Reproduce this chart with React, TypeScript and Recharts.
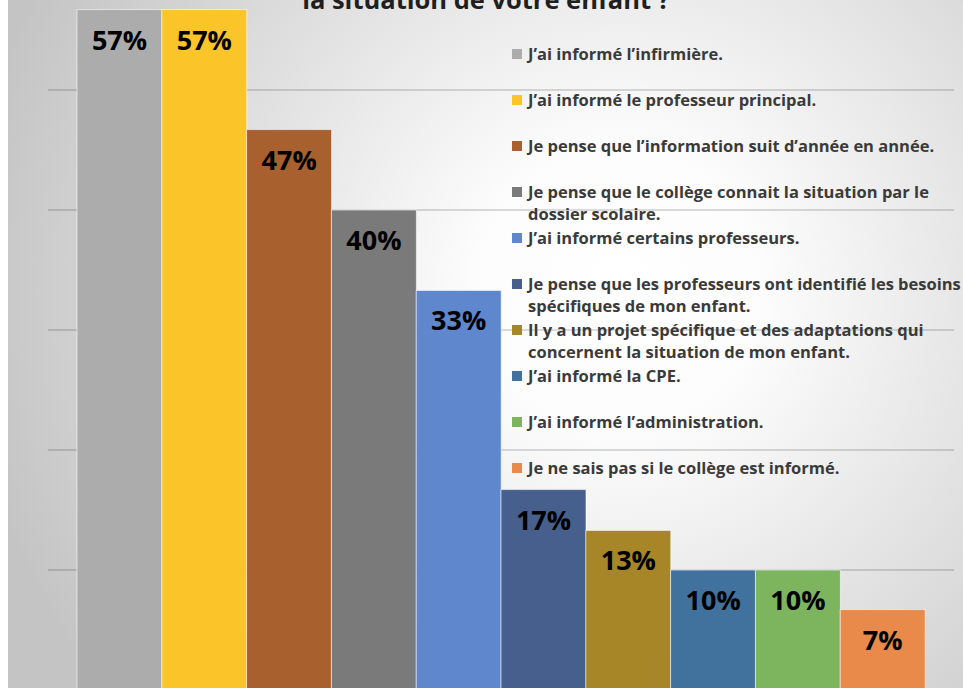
import React from "react";
import { BarChart, Bar, XAxis, YAxis, CartesianGrid, Cell, LabelList } from "recharts";

const categories = [
  "J’ai informé l’infirmière.",
  "J’ai informé le professeur principal.",
  "Je pense que l’information suit d’année en année.",
  "Je pense que le collège connait la situation par le dossier scolaire.",
  "J’ai informé certains professeurs.",
  "Je pense que les professeurs ont identifié les besoins spécifiques de mon enfant.",
  "Il y a un projet spécifique et des adaptations qui concernent la situation de mon enfant.",
  "J’ai informé la CPE.",
  "J’ai informé l’administration.",
  "Je ne sais pas si le collège est informé.",
];
const values = [56.7, 56.7, 46.7, 40, 33.3, 16.7, 13.3, 10, 10, 6.7];
const colors = [
  "#ACACAC", "#FBC52A", "#A9602F", "#7A7A7A", "#5F87CD",
  "#465F8C", "#A68626", "#41729E", "#7DB55E", "#E98A4A",
];
const yTicks = [0, 10, 20, 30, 40, 50, 60];
const title = "la situation de votre enfant ?";

const data = categories.map((name, i) => ({ name, value: values[i] }));

const FONT = "'Open Sans', 'DejaVu Sans', sans-serif";

function PctLabel(props: any) {
  const { x, y, width, value } = props;
  return (
    <text
      x={x + width / 2}
      y={y + 40}
      textAnchor="middle"
      fontFamily={FONT}
      fontWeight={700}
      fontSize={27}
      fill="#000"
    >
      {Math.round(value)}%
    </text>
  );
}

export default function App() {
  return (
    <div
      style={{
        position: "absolute",
        left: 8,
        top: 0,
        width: 955,
        height: 688,
        overflow: "hidden",
        background: "radial-gradient(circle at 64% 42%, #ffffff 0%, #fcfcfc 20%, #e0e0e0 55%, #c4c4c4 90%)",
        fontFamily: FONT,
      }}
    >
      <div
        style={{
          position: "absolute",
          left: 0,
          top: -13,
          width: 956,
          textAlign: "center",
          fontSize: 25.5,
          lineHeight: "24px",
          fontWeight: 700,
          color: "#1f1f1f",
        }}
      >
        {title}
      </div>
      <div style={{ position: "absolute", left: 0, top: -60 }}>
        <BarChart
          width={1000}
          height={760}
          data={data}
          margin={{ top: 30, right: 54, bottom: 10, left: 40 }}
          barCategoryGap={0}
          barGap={0}
        >
          <XAxis dataKey="name" hide padding={{ left: 29, right: 29 }} />
          <YAxis hide domain={[0, 60]} ticks={yTicks} />
          <Bar dataKey="value" stroke="#ffffff" strokeOpacity={0.6} strokeWidth={1} isAnimationActive={false}>
            {data.map((d, i) => (
              <Cell key={d.name} fill={colors[i]} />
            ))}
            <LabelList dataKey="value" content={PctLabel} />
          </Bar>
          <CartesianGrid horizontal vertical={false} stroke="#000" strokeOpacity={0.28} />
        </BarChart>
      </div>
      <div style={{ position: "absolute", left: 504, top: 43, width: 470 }}>
        {categories.map((c, i) => (
          <div key={c} style={{ position: "relative", height: 46, fontSize: 16.5, lineHeight: "22px", fontWeight: 700, color: "#3a3a3a" }}>
            <span
              style={{ position: "absolute", left: 0, top: 6, width: 10, height: 10, background: colors[i] }}
            />
            <div style={{ marginLeft: 16, width: 450 }}>{c}</div>
          </div>
        ))}
      </div>
    </div>
  );
}
